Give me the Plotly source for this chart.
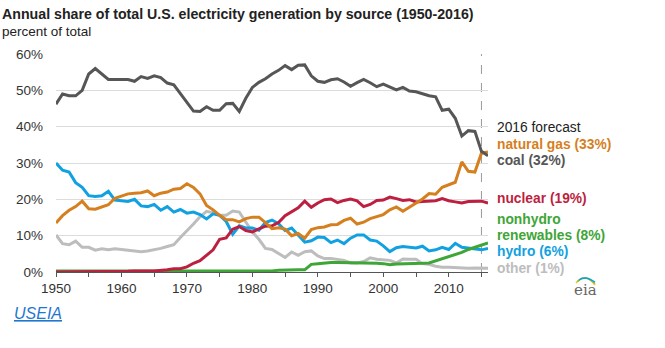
import plotly.graph_objects as go

years = list(range(1950, 2017))

coal = [46.2, 49.0, 48.5, 48.5, 50.0, 54.5, 56.0, 54.5, 53.0, 53.0,
        53.0, 53.0, 52.5, 53.8, 53.3, 54.0, 53.5, 52.0, 51.5, 49.0,
        46.5, 44.3, 44.2, 45.5, 44.5, 44.5, 46.3, 46.4, 44.2, 47.8,
        50.8, 52.2, 53.2, 54.5, 55.5, 56.8, 55.7, 56.9, 57.0, 54.0,
        52.5, 52.2, 52.9, 53.2, 52.3, 51.1, 52.1, 53.0, 52.1, 51.0,
        51.7, 50.9, 50.1, 50.8, 49.8, 49.6, 49.0, 48.5, 48.2, 44.5,
        44.8, 42.3, 37.4, 38.9, 38.7, 33.2, 32.0]

natural_gas = [13.5, 15.5, 17.0, 18.0, 19.5, 17.4, 17.3, 17.8, 18.5, 20.3,
               21.0, 21.5, 21.7, 21.8, 22.3, 21.0, 21.7, 22.0, 22.8, 23.0,
               24.3, 23.3, 21.5, 18.3, 17.1, 15.6, 14.4, 14.4, 13.8, 14.7,
               15.1, 15.1, 13.6, 11.9, 12.2, 11.8, 10.0, 10.6, 9.3, 11.7,
               12.2, 12.4, 13.0, 13.1, 14.2, 14.8, 13.2, 13.7, 14.7, 15.2,
               15.8, 17.1, 17.9, 16.7, 17.8, 18.8, 20.1, 21.6, 21.4, 23.3,
               23.9, 24.7, 30.3, 27.7, 27.5, 32.7, 33.0]

nuclear = [0.0, 0.0, 0.0, 0.0, 0.0, 0.0, 0.0, 0.0, 0.0, 0.05,
           0.1, 0.2, 0.3, 0.4, 0.3, 0.3, 0.4, 0.6, 0.9, 0.9,
           1.4, 2.4, 3.1, 4.5, 6.1, 9.0, 9.4, 11.8, 12.5, 11.4,
           11.0, 11.9, 12.6, 12.7, 13.6, 15.5, 16.6, 17.7, 19.5, 17.8,
           19.0, 19.9, 20.1, 19.1, 19.7, 20.1, 19.6, 18.0, 18.6, 19.7,
           19.8, 20.6, 20.2, 19.7, 19.9, 19.3, 19.4, 19.4, 19.6, 20.2,
           19.6, 19.3, 19.0, 19.4, 19.5, 19.5, 19.0]

hydro = [30.0, 28.0, 27.5, 24.6, 23.3, 21.0, 20.8, 21.0, 22.2, 19.8,
         19.6, 19.4, 20.0, 18.2, 18.0, 18.6, 17.0, 18.0, 16.5, 17.2,
         16.2, 16.5, 15.8, 14.6, 16.0, 15.6, 13.9, 10.4, 12.7, 12.1,
         12.1, 11.5, 13.6, 14.3, 13.3, 11.4, 12.1, 10.0, 8.2, 8.6,
         9.6, 9.5, 8.1, 8.8, 7.8, 9.3, 10.2, 10.2, 8.8, 8.5,
         7.2, 5.6, 6.7, 7.0, 6.8, 6.6, 7.1, 5.8, 6.1, 6.8,
         6.2, 7.9, 6.8, 6.6, 6.3, 6.1, 6.5]

nonhydro_renewables = [0.3, 0.3, 0.3, 0.3, 0.3, 0.2, 0.2, 0.2, 0.2, 0.2,
                       0.2, 0.2, 0.2, 0.2, 0.2, 0.2, 0.2, 0.2, 0.2, 0.2,
                       0.2, 0.2, 0.3, 0.3, 0.3, 0.3, 0.3, 0.3, 0.3, 0.3,
                       0.3, 0.3, 0.3, 0.3, 0.5, 0.6, 0.6, 0.6, 0.6, 2.1,
                       2.3, 2.5, 2.6, 2.6, 2.6, 2.4, 2.4, 2.4, 2.4, 2.4,
                       2.3, 2.0, 2.2, 2.2, 2.2, 2.3, 2.4, 2.5, 3.1, 3.6,
                       4.1, 4.7, 5.4, 6.2, 6.8, 7.3, 8.0]

other = [10.2, 7.8, 7.5, 8.5, 6.8, 6.8, 6.0, 6.4, 6.1, 6.4,
         6.2, 6.0, 5.6, 5.6, 5.8, 6.1, 6.5, 7.0, 7.5, 9.5,
         11.3, 13.2, 15.2, 16.7, 16.3, 15.6, 15.6, 16.8, 16.5, 13.6,
         11.0, 9.0, 6.5, 6.2, 5.0, 4.0, 5.5, 4.6, 5.6, 5.8,
         4.4, 3.7, 3.7, 3.5, 3.2, 2.5, 2.5, 2.9, 3.9, 3.5,
         3.3, 3.2, 2.5, 3.6, 3.5, 3.5, 2.3, 2.1, 1.6, 1.3,
         1.3, 1.2, 1.0, 1.0, 1.1, 1.0, 1.0]

y_ticks = [0, 10, 20, 30, 40, 50, 60]
y_tick_labels = ["0%", "10%", "20%", "30%", "40%", "50%", "60%"]
x_ticks = [1950, 1960, 1970, 1980, 1990, 2000, 2010]
forecast_year = 2015

series = [
    ("other", other, "#bdbdbd"),
    ("hydro", hydro, "#11a1e0"),
    ("nonhydro renewables", nonhydro_renewables, "#3ea537"),
    ("nuclear", nuclear, "#bd1f40"),
    ("natural gas", natural_gas, "#d57f1e"),
    ("coal", coal, "#565656"),
]

end_labels = [
    ("2016 forecast", "#222222", 128, False),
    ("natural gas (33%)", "#d57f1e", 144, True),
    ("coal (32%)", "#565656", 160, True),
    ("nuclear (19%)", "#bd1f40", 198, True),
    ("nonhydro", "#3ea537", 219, True),
    ("renewables (8%)", "#3ea537", 235, True),
    ("hydro (6%)", "#11a1e0", 251, True),
    ("other (1%)", "#bdbdbd", 268, True),
]

W, H = 665, 348
fig = go.Figure()

for name, vals, color in series:
    fig.add_trace(go.Scatter(
        x=years, y=vals, mode="lines", name=name,
        line=dict(color=color, width=3), cliponaxis=False,
        hoverinfo="x+y+name",
    ))

# forecast divider
fig.add_shape(type="line", xref="x", yref="paper",
              x0=forecast_year, x1=forecast_year, y0=0, y1=1,
              line=dict(color="#9a9a9a", width=1, dash="dash"), layer="below")

font_main = "Liberation Sans, Arial, sans-serif"

fig.add_annotation(text="<b>Annual share of total U.S. electricity generation by source (1950-2016)</b>",
                   xref="paper", yref="paper", x=-56 / 432, y=1 + 40 / 218,
                   xanchor="left", yanchor="middle", showarrow=False,
                   font=dict(family=font_main, size=14.2, color="#222222"))
fig.add_annotation(text="percent of total",
                   xref="paper", yref="paper", x=-56 / 432, y=1 + 22 / 218,
                   xanchor="left", yanchor="middle", showarrow=False,
                   font=dict(family=font_main, size=13.5, color="#222222"))

plot_top, plot_h = 54, 218
for text, color, ypix, bold in end_labels:
    t = f"<b>{text}</b>" if bold else text
    fig.add_annotation(text=t, xref="paper", yref="paper",
                       x=(495 - 56) / 432, y=(plot_top + plot_h - ypix) / plot_h,
                       xanchor="left", yanchor="middle", showarrow=False,
                       font=dict(family=font_main, size=13.8, color=color))

# eia mark
fig.add_annotation(text="eia", xref="paper", yref="paper",
                   x=(585 - 56) / 432, y=(272 - 290) / 218,
                   xanchor="center", yanchor="middle", showarrow=False,
                   font=dict(family="DejaVu Serif, serif", size=15, color="#666666"))
for i, c in enumerate(["#f2c21b", "#7cc242", "#11a1e0"]):
    off = i * 1.5
    fig.add_shape(type="path", xref="paper", yref="paper",
                  path=(f"M {(576 - 56 + off) / 432},{(272 - 283 + off) / 218} "
                        f"Q {(585 - 56) / 432},{(272 - 272 - off) / 218} "
                        f"{(595 - 56) / 432},{(272 - 285 + off) / 218}"),
                  line=dict(color=c, width=1.5))

fig.add_annotation(text="<i><u>USEIA</u></i>", xref="paper", yref="paper",
                   x=-44 / 432, y=(272 - 313) / 218,
                   xanchor="left", yanchor="middle", showarrow=False,
                   font=dict(family=font_main, size=16, color="#1f77d0"))

fig.update_layout(
    width=W, height=H,
    margin=dict(l=56, r=W - 488, t=54, b=H - 272, pad=0),
    paper_bgcolor="white", plot_bgcolor="white",
    showlegend=False,
    font=dict(family=font_main, size=13, color="#333333"),
    xaxis=dict(range=[1950, 2016], tickvals=x_ticks, showgrid=False,
               zeroline=False, showline=True, linecolor="#555555", linewidth=1,
               ticks="outside", ticklen=4, tickcolor="#555555",
               minor=dict(dtick=5, tick0=1950, ticks="outside", ticklen=4, tickcolor="#555555"),
               tickfont=dict(size=13.5, color="#333333")),
    yaxis=dict(range=[0, 60], tickvals=y_ticks, ticktext=y_tick_labels,
               showgrid=True, gridcolor="#dcdcdc", gridwidth=1,
               zeroline=False, showline=False, ticks="",
               ticklabelstandoff=12,
               tickfont=dict(size=13.5, color="#333333")),
)

fig.write_html("out.html")
